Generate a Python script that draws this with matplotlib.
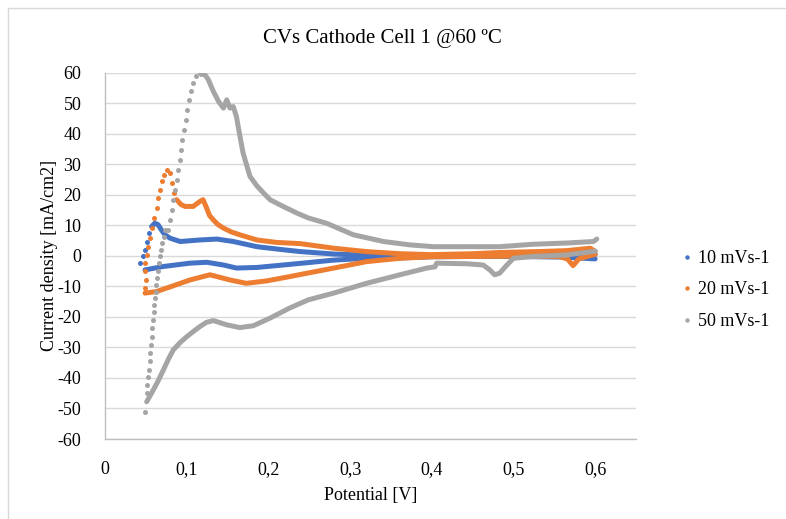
import matplotlib
matplotlib.use("Agg")
import matplotlib.pyplot as plt
from matplotlib.lines import Line2D
from matplotlib.patches import Rectangle

plt.rcParams["font.family"] = ["Liberation Serif", "DejaVu Serif"]
plt.rcParams["axes.unicode_minus"] = False

# ---- 10 mV/s ----
v10_cath = [0.600, 0.560, 0.500, 0.450, 0.400, 0.360, 0.320, 0.280, 0.249, 0.218, 0.186,
            0.161, 0.145, 0.1245, 0.104, 0.071, 0.049]
i10_cath = [-1.0, -0.4, -0.2, -0.2, -0.3, -0.7, -0.8, -1.4, -2.2, -3.0, -3.8,
            -4.0, -3.0, -2.1, -2.4, -3.5, -4.6]
v10_rise = [0.043, 0.046, 0.049, 0.051, 0.054]
i10_rise = [-2.2, 0.0, 2.0, 4.7, 7.4]
v10_anod = [0.057, 0.061, 0.065, 0.069, 0.0734, 0.0796, 0.092, 0.116, 0.137, 0.157,
            0.186, 0.218, 0.239, 0.280, 0.320, 0.360, 0.400, 0.450, 0.500, 0.550, 0.600]
i10_anod = [9.6, 10.7, 10.2, 8.5, 6.9, 5.8, 4.7, 5.2, 5.5, 4.7,
            3.0, 2.0, 1.4, 0.6, 0.2, 0.0, 0.0, 0.1, 0.2, 0.3, 0.5]

# ---- 20 mV/s ----
v20_cath = [0.600, 0.590, 0.580, 0.573, 0.566, 0.555, 0.500, 0.450, 0.400, 0.361, 0.320,
            0.280, 0.249, 0.226, 0.198, 0.173, 0.153, 0.1285, 0.104, 0.0836, 0.063, 0.049]
i20_cath = [0.5, -0.2, -1.0, -3.2, -1.0, -0.2, -0.1, -0.2, -0.3, -0.8, -1.9,
            -4.0, -5.6, -6.8, -8.2, -9.0, -7.9, -6.2, -7.9, -9.8, -11.7, -12.2]
v20_rise = [0.049, 0.050, 0.049, 0.049, 0.051, 0.053, 0.055, 0.058, 0.0604, 0.0633,
            0.0653, 0.0673, 0.0694, 0.0722, 0.0763, 0.0796, 0.0824, 0.0849]
i20_rise = [-10.5, -7.9, -5.1, -2.4, 0.3, 3.0, 5.8, 9.1, 12.4, 15.6,
            18.9, 21.6, 24.4, 26.6, 28.0, 27.1, 23.8, 20.6]
v20_anod = [0.0877, 0.093, 0.098, 0.108, 0.116, 0.120, 0.1245, 0.128, 0.1326, 0.138,
            0.145, 0.155, 0.165, 0.186, 0.210, 0.239, 0.280, 0.320, 0.361, 0.400,
            0.450, 0.483, 0.530, 0.565, 0.594, 0.600]
i20_anod = [18.4, 16.8, 16.2, 16.2, 17.8, 18.4, 15.6, 13.2, 11.8, 10.3,
            9.1, 7.8, 6.9, 5.2, 4.4, 4.0, 2.5, 1.4, 0.7, 0.4,
            0.7, 1.1, 1.4, 1.7, 2.5, 1.5]

# ---- 50 mV/s ----
v50_cath = [0.600, 0.565, 0.524, 0.500, 0.492, 0.483, 0.477, 0.471, 0.463, 0.443,
            0.406, 0.404, 0.394, 0.361, 0.320, 0.280, 0.249, 0.226, 0.202, 0.1815,
            0.165, 0.149, 0.1326, 0.124, 0.116, 0.108, 0.100, 0.092, 0.0836, 0.0775,
            0.0714, 0.065, 0.059, 0.051]
i50_cath = [1.5, 0.3, -0.2, -0.8, -3.0, -5.7, -6.2, -4.6, -3.0, -2.6,
            -2.4, -3.6, -4.0, -6.2, -9.0, -12.2, -14.4, -17.1, -20.4, -22.9,
            -23.5, -22.6, -21.2, -21.8, -23.2, -24.8, -26.5, -28.4, -30.8, -33.9,
            -37.4, -41.0, -44.0, -47.8]
v50_rise = [0.049, 0.051, 0.052, 0.053, 0.054, 0.0547, 0.0555, 0.0563, 0.0571, 0.0579,
            0.0588, 0.0596, 0.0604, 0.0612, 0.062, 0.0628, 0.0636, 0.0645, 0.066, 0.0673,
            0.0685, 0.0702, 0.0718, 0.0734, 0.0775, 0.0796, 0.0816, 0.0836, 0.0857, 0.0877,
            0.0897, 0.0918, 0.093, 0.0946, 0.0967, 0.0988, 0.1008, 0.1028, 0.1053, 0.108,
            0.112, 0.117]
i50_rise = [-51.0, -45.0, -42.3, -39.6, -37.4, -34.6, -31.9, -29.2, -26.5, -23.7,
            -21.0, -18.3, -16.1, -13.9, -11.7, -9.5, -7.3, -5.1, -2.4, -0.2,
            2.0, 4.2, 6.3, 8.5, 8.5, 11.8, 15.1, 18.4, 21.6, 24.9,
            28.2, 31.5, 34.8, 38.0, 41.3, 44.6, 47.9, 51.1, 53.9, 56.6,
            58.8, 59.7]
v50_anod = [0.117, 0.1224, 0.1265, 0.1326, 0.139, 0.145, 0.149, 0.153, 0.157, 0.161,
            0.163, 0.169, 0.1775, 0.186, 0.194, 0.202, 0.218, 0.235, 0.249, 0.271,
            0.304, 0.341, 0.373, 0.402, 0.443, 0.483, 0.524, 0.565, 0.598, 0.602]
i50_anod = [59.7, 59.3, 57.7, 53.9, 50.6, 48.4, 51.1, 48.4, 48.9, 45.5,
            42.4, 33.7, 26.0, 22.9, 20.6, 18.4, 16.2, 14.0, 12.4, 10.7,
            6.9, 4.7, 3.6, 3.0, 3.0, 3.0, 3.8, 4.2, 4.7, 5.5]

series = [
    ("10 mVs-1", "#4472c4", (v10_cath, i10_cath), (v10_rise, i10_rise), (v10_anod, i10_anod)),
    ("20 mVs-1", "#ed7d31", (v20_cath, i20_cath), (v20_rise, i20_rise), (v20_anod, i20_anod)),
    ("50 mVs-1", "#a5a5a5", (v50_cath, i50_cath), (v50_rise, i50_rise), (v50_anod, i50_anod)),
]

x_ticks = [0, 0.1, 0.2, 0.3, 0.4, 0.5, 0.6]
x_tick_labels = ["0", "0,1", "0,2", "0,3", "0,4", "0,5", "0,6"]
y_ticks = list(range(-60, 61, 10))

fig = plt.figure(figsize=(7.86, 5.19), dpi=100)
ax = fig.add_axes([105 / 786, 1 - 439 / 519, 531 / 786, 366.3 / 519])

lw = 3.6
ms = 3.6
handles = []
for name, color, cath, rise, anod in series:
    ax.plot(*cath, color=color, lw=lw, solid_capstyle="round", solid_joinstyle="round", zorder=3)
    ax.plot(*anod, color=color, lw=lw, solid_capstyle="round", solid_joinstyle="round", zorder=3)
    ax.plot(*rise, linestyle="none", marker="o", ms=ms, mec="none", mfc=color, zorder=3)
    handles.append(Line2D([], [], linestyle="none", marker="o", ms=3.2, mec="none", mfc=color, label=name))

ax.set_xlim(0, 0.65)
ax.set_ylim(-60, 60)
ax.set_xticks(x_ticks)
ax.set_xticklabels(x_tick_labels)
ax.set_yticks(y_ticks)
ax.tick_params(axis="both", length=0, labelsize=13, colors="#000000")
ax.tick_params(axis="x", pad=16)
ax.tick_params(axis="y", pad=17)
ax.grid(axis="y", color="#d9d9d9", lw=1.0, zorder=0)
ax.set_axisbelow(True)
for s in ["top", "right"]:
    ax.spines[s].set_visible(False)
for s in ["left", "bottom"]:
    ax.spines[s].set_color("#bfbfbf")
    ax.spines[s].set_linewidth(1.0)

ax.set_xlabel("Potential [V]", fontsize=13, labelpad=6)
ax.set_ylabel("Current density [mA/cm2]", fontsize=13, labelpad=0)
fig.text(382 / 786, 1 - 38 / 519, "CVs Cathode Cell 1 @60 ºC", ha="center", va="center", fontsize=15)

fig.legend(handles=handles, loc="center left", bbox_to_anchor=(671 / 786, 1 - 290 / 519),
           frameon=False, fontsize=13, handletextpad=0.1, handlelength=1.0,
           labelspacing=0.8, borderaxespad=0)

fig.patches.append(Rectangle((8 / 786, -0.1), 2, 1 - 8 / 519 + 0.1, transform=fig.transFigure,
                             fill=False, edgecolor="#d9d9d9", lw=1.0))

fig.savefig("out.png", dpi=100)
